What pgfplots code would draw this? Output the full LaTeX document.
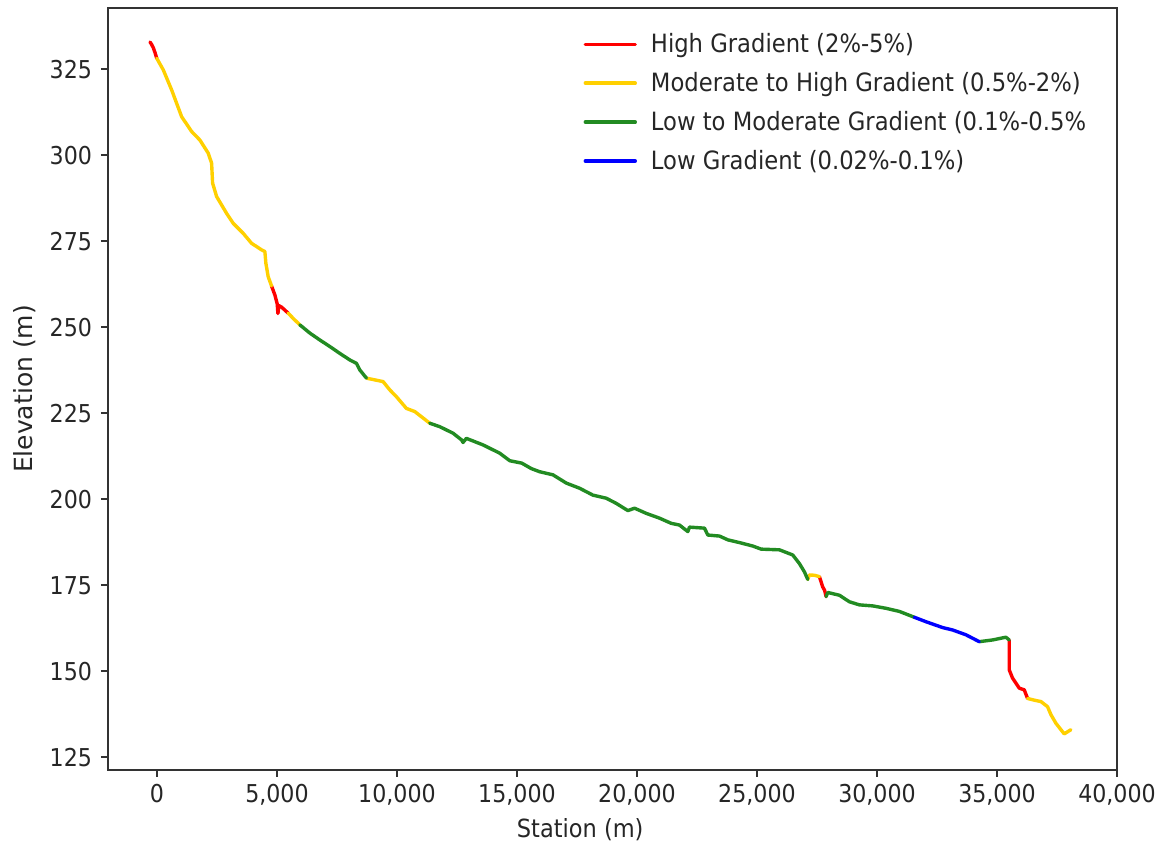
\documentclass[border=0pt]{standalone}
\usepackage{fontspec}
\setmainfont{DejaVu Sans}[FakeStretch=0.9]
\newfontfamily\ylfont{DejaVu Sans}
\usepackage{pgfplots}
\pgfplotsset{compat=1.18}
\definecolor{cRed}{HTML}{FF0000}
\definecolor{cYel}{HTML}{FFD000}
\definecolor{cGrn}{HTML}{228B22}
\definecolor{cBlu}{HTML}{0000FF}
\begin{document}
\begin{tikzpicture}
\begin{axis}[
  scale only axis, width=504.5pt, height=381pt,
  xmin=-2040, xmax=40000, ymin=121.3, ymax=342.8,
  xtick={0,5000,...,40000}, ytick={125,150,...,325},
  scaled x ticks=false,
  xticklabel style={/pgf/number format/1000 sep={,}},
  yticklabel style={xshift=-1pt},
  /pgf/number format/assume math mode=true,
  tick align=outside, tick pos=left, major tick length=3.5pt,
  tick style={black!80, line width=0.8pt},
  axis line style={black!80, line width=0.9pt},
  tick label style={font=\fontsize{12.3}{14}\selectfont, text=black!85},
  xlabel={Station (m)}, ylabel={\ylfont Elevation (m)},
  xlabel style={at={(axis description cs:0.468,-0.0787)}, anchor=center, font=\fontsize{12.5}{15}\selectfont, text=black!85},
  ylabel style={at={(axis description cs:-0.0823,0.5)}, anchor=center, font=\fontsize{12.5}{15}\selectfont, text=black!85},
  unbounded coords=jump,
  legend style={draw=none, fill=none, at={(axis description cs:0.465,0.978)}, anchor=north west,
    font=\fontsize{12.6}{15}\selectfont, text=black!85, row sep=4.4pt, legend cell align=left,
    /tikz/every odd column/.style={column sep=5pt}},
  legend image code/.code={\draw[#1] (0pt,0pt) -- (25pt,0pt);},
  every axis plot/.append style={line width=1.7pt, line join=round, line cap=round},
]
\addplot[cRed] coordinates {
(-290,332.9) (-230,332.3) (-150,331.2) (-80,329.8) (-10,328.2)
(nan,nan)
(4774,262.0) (4912,259.4) (5010,256.8) (5040,254.0) (5080,256.3) (5200,255.8) (5466,254.1)
(nan,nan)
(27601,177.5) (27740,174.5) (27820,173.5) (27879,171.7)
(nan,nan)
(35510,159.1) (35510,150.4) (35649,148.0) (35927,145.1) (36135,144.6) (36274,142.1)
};
\addlegendentry{High Gradient (2\%-5\%)}
\addplot[cYel] coordinates {
(-10,328.2) (264,324.8) (611,319.0) (1028,311.2) (1444,306.9) (1790,304.4) (2136,300.6) (2277,297.7) (2318,291.9) (2485,288.0) (2901,283.1) (3177,280.2) (3593,277.3) (3942,274.4) (4358,272.5) (4496,272.0) (4538,268.6) (4634,264.7) (4774,262.0)
(nan,nan)
(5466,254.1) (5700,252.4) (5953,250.7)
(nan,nan)
(8729,235.2) (9075,234.7) (9422,234.2) (9700,231.8) (9978,229.8) (10394,226.4) (10740,225.5) (11018,224.0) (11365,222.1)
(nan,nan)
(27115,176.7) (27185,178.0) (27400,177.9) (27601,177.5)
(nan,nan)
(36274,142.1) (36550,141.6) (36829,141.2) (37107,139.7) (37246,137.4) (37454,134.9) (37800,131.8) (38078,133.0)
};
\addlegendentry{Moderate to High Gradient (0.5\%-2\%)}
\addplot[cGrn] coordinates {
(5953,250.7) (6370,248.3) (6786,246.3) (7202,244.4) (7618,242.4) (8035,240.5) (8313,239.5) (8451,237.6) (8729,235.2)
(nan,nan)
(11365,222.1) (11781,221.1) (12336,219.2) (12700,217.2) (12752,216.5) (12892,217.7) (13584,215.8) (14279,213.4) (14700,211.2) (15200,210.5) (15600,208.9) (15944,208.0) (16499,207.1) (17054,204.7) (17609,203.2) (18164,201.2) (18720,200.3) (19136,198.8) (19621,196.7) (19899,197.4) (20385,195.9) (20940,194.5) (21426,193.0) (21772,192.5) (22118,190.6) (22188,191.9) (22813,191.6) (22951,189.6) (23438,189.3) (23785,188.2) (24271,187.4) (24826,186.4) (25173,185.5) (25936,185.3) (26490,183.8) (26768,181.3) (26976,178.9) (27115,176.7)
(nan,nan)
(27879,171.7) (27949,172.9) (28434,172.1) (28850,170.2) (29266,169.3) (29821,169.0) (30376,168.3) (30931,167.4) (31556,165.7)
(nan,nan)
(34261,158.6) (34816,159.1) (35371,159.9) (35510,159.1)
};
\addlegendentry{Low to Moderate Gradient (0.1\%-0.5\%}
\addplot[cBlu] coordinates {
(31556,165.7) (32041,164.4) (32735,162.7) (33151,162.0) (33706,160.6) (34261,158.6)
};
\addlegendentry{Low Gradient (0.02\%-0.1\%)}
\end{axis}
\pgfresetboundingbox
\path (current axis.south west) ++(-54pt,-40.5pt) rectangle ++(579pt,425.5pt);
\end{tikzpicture}
\end{document}
